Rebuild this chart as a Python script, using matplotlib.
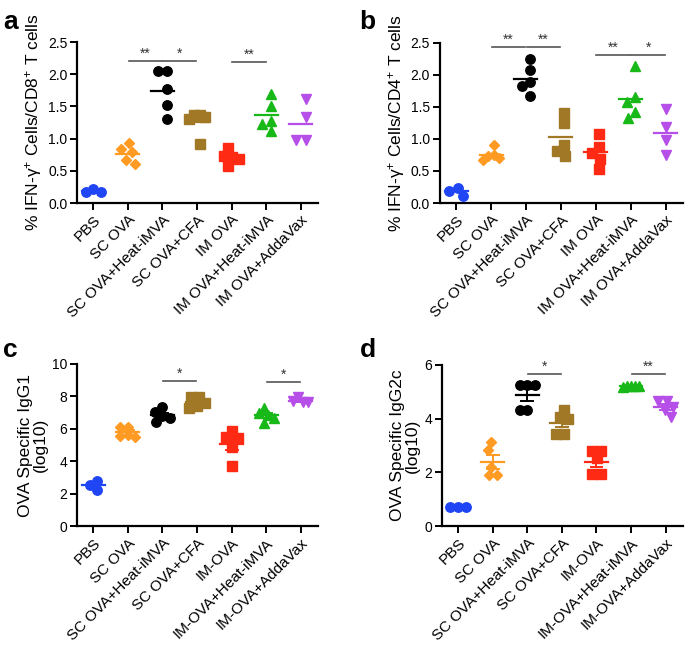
import matplotlib
matplotlib.use("Agg")
import matplotlib.pyplot as plt
import numpy as np

plt.rcParams['font.family'] = ['Liberation Sans', 'DejaVu Sans']
plt.rcParams['mathtext.fontset'] = 'custom'
plt.rcParams['mathtext.rm'] = 'Liberation Sans'

# group names
groups_ab = ["PBS", "SC OVA", "SC OVA+Heat-iMVA", "SC OVA+CFA", "IM OVA",
             "IM OVA+Heat-iMVA", "IM OVA+AddaVax"]
groups_cd = ["PBS", "SC OVA", "SC OVA+Heat-iMVA", "SC OVA+CFA", "IM-OVA",
             "IM-OVA+Heat-iMVA", "IM-OVA+AddaVax"]

colors = ["#1f45f5", "#ff9a22", "#000000", "#a07826", "#ff2a14", "#17b817", "#b64ee8"]
markers = ["o", "D", "o", "s", "s", "^", "v"]

# panel a: % IFN-g+ of CD8+
cd8 = [
    [0.22, 0.17, 0.17],
    [0.93, 0.84, 0.79, 0.67, 0.60],
    [2.05, 2.05, 1.77, 1.53, 1.31],
    [1.37, 1.37, 1.33, 1.31, 0.91],
    [0.85, 0.73, 0.71, 0.69, 0.58],
    [1.69, 1.51, 1.28, 1.22, 1.12],
    [1.61, 1.34, 0.98, 0.98],
]
# panel b: % IFN-g+ of CD4+
cd4 = [
    [0.24, 0.19, 0.11],
    [0.90, 0.75, 0.73, 0.70, 0.67],
    [2.24, 2.08, 1.88, 1.82, 1.67],
    [1.41, 1.25, 0.90, 0.81, 0.74],
    [1.07, 0.88, 0.78, 0.69, 0.53],
    [2.13, 1.65, 1.57, 1.42, 1.32],
    [1.47, 1.18, 0.98, 0.75],
]
# panel c: IgG1 (log10)
igg1 = [
    [2.80, 2.53, 2.22],
    [6.13, 6.13, 5.60, 5.55, 5.50],
    [7.33, 7.06, 6.79, 6.65, 6.44],
    [7.95, 7.95, 7.60, 7.40, 7.30],
    [5.85, 5.50, 5.45, 4.90, 3.70],
    [7.26, 7.00, 6.85, 6.65, 6.38],
    [7.98, 7.70, 7.65, 7.63],
]
# panel d: IgG2c (log10)
igg2c = [
    [0.72, 0.72, 0.70],
    [3.12, 2.82, 2.21, 1.90, 1.90],
    [5.24, 5.24, 5.24, 4.33, 4.33],
    [4.33, 4.06, 4.00, 3.43, 3.43],
    [2.81, 2.81, 2.52, 1.93, 1.93],
    [5.22, 5.21, 5.20, 5.20, 5.18],
    [4.64, 4.64, 4.43, 4.30, 4.06],
]

# significance: (group1, group2, y, label)
sig_a = [(1, 2, 2.21, "**"), (2, 3, 2.21, "*"), (4, 5, 2.19, "**")]
sig_b = [(1, 2, 2.43, "**"), (2, 3, 2.43, "**"), (4, 5, 2.31, "**"), (5, 6, 2.31, "*")]
sig_c = [(2, 3, 8.95, "*"), (5, 6, 8.9, "*")]
sig_d = [(2, 3, 5.67, "*"), (5, 6, 5.65, "**")]

XPX = 34.7  # pixels per category


def swarm(vals, ypx, diam=7.5, maxw=0.22):
    # simple beeswarm in pixel space, closest free spot to the centre
    ys = np.asarray(vals) * ypx
    placed = []
    off = np.zeros(len(ys))
    for i in np.argsort(-ys, kind="stable"):
        cands = [0.0]
        for xj, yj in placed:
            dy = abs(ys[i] - yj)
            if dy < diam:
                dx = np.sqrt(diam ** 2 - dy ** 2)
                cands += [xj - dx, xj + dx]
        cands.sort(key=lambda c: (round(abs(c), 3), c))
        for c in cands:
            if all((c - xj) ** 2 + (ys[i] - yj) ** 2 >= diam ** 2 - 1e-6 for xj, yj in placed):
                off[i] = c
                break
        placed.append((off[i], ys[i]))
    # centre the cloud and keep it narrow (points may overlap, like prism)
    off = (off - (off.max() + off.min()) / 2) / XPX
    w = np.abs(off).max()
    if w > maxw:
        off = off * maxw / w
    return off


def panel(ax, data, labels, ylim, yticks, fmt, ylabel, sigs, sem=False):
    ax_h_px = ax.get_position().height * 657
    ypx = ax_h_px / (ylim[1] - ylim[0])
    for i, vals in enumerate(data):
        vals = np.array(vals)
        x = i + swarm(vals, ypx, diam=8.5 if sem else 9.5)
        ax.plot(x, vals, linestyle="none", marker=markers[i], color=colors[i],
                markersize=6.8 if markers[i] != "D" else 5.2, zorder=3, clip_on=False)
        m = vals.mean()
        ax.plot([i - 0.33, i + 0.33], [m, m], color=colors[i], lw=1.6, zorder=4)
        if sem:
            s = vals.std(ddof=1) / np.sqrt(len(vals))
            ax.plot([i, i], [m - s, m + s], color=colors[i], lw=1.4, zorder=4)
            ax.plot([i - 0.17, i + 0.17], [m - s, m - s], color=colors[i], lw=1.4, zorder=4)
            ax.plot([i - 0.17, i + 0.17], [m + s, m + s], color=colors[i], lw=1.4, zorder=4)
    for g1, g2, y, lab in sigs:
        ax.plot([g1 + 0.02, g2 - 0.02], [y, y], color="#555555", lw=1.2)
        ax.text((g1 + g2) / 2, y, lab, ha="center", va="bottom", fontsize=10,
                color="#333333")
    ax.set_xlim(-0.47, 6.5)
    ax.set_ylim(*ylim)
    ax.set_yticks(yticks)
    ax.set_yticklabels([fmt.format(t) for t in yticks], fontsize=10)
    ax.set_xticks(range(len(labels)))
    ax.set_xticklabels(labels, rotation=45, ha="right", rotation_mode="anchor",
                       fontsize=11)
    ax.set_ylabel(ylabel, fontsize=12.5, labelpad=3, linespacing=1.0)
    for s in ["top", "right"]:
        ax.spines[s].set_visible(False)
    for s in ["left", "bottom"]:
        ax.spines[s].set_linewidth(1.6)
    ax.tick_params(width=1.4, length=5, direction="out", pad=2)


fig = plt.figure(figsize=(6.85, 6.57), dpi=100)
ax_a = fig.add_axes([0.1124, 0.691, 0.352, 0.245])
ax_b = fig.add_axes([0.642, 0.691, 0.355, 0.244])
ax_c = fig.add_axes([0.1124, 0.199, 0.352, 0.247])
ax_d = fig.add_axes([0.645, 0.199, 0.352, 0.246])

panel(ax_a, cd8, groups_ab, (0, 2.5), [0, 0.5, 1.0, 1.5, 2.0, 2.5], "{:.1f}",
      r"% IFN-γ$\mathregular{^{+}}$ Cells/CD8$\mathregular{^{+}}$ T cells", sig_a)
panel(ax_b, cd4, groups_ab, (0, 2.5), [0, 0.5, 1.0, 1.5, 2.0, 2.5], "{:.1f}",
      r"% IFN-γ$\mathregular{^{+}}$ Cells/CD4$\mathregular{^{+}}$ T cells", sig_b)
panel(ax_c, igg1, groups_cd, (0, 10), [0, 2, 4, 6, 8, 10], "{:d}",
      "OVA Specific IgG1\n(log10)", sig_c, sem=True)
panel(ax_d, igg2c, groups_cd, (0, 6), [0, 2, 4, 6], "{:d}",
      "OVA Specific IgG2c\n(log10)", sig_d, sem=True)

for lab, (x, y) in zip("abcd", [(0.005, 0.985), (0.525, 0.985), (0.005, 0.485), (0.525, 0.485)]):
    fig.text(x, y, lab, fontsize=19, fontweight="bold", ha="left", va="top")

fig.savefig("out.png", dpi=100)
